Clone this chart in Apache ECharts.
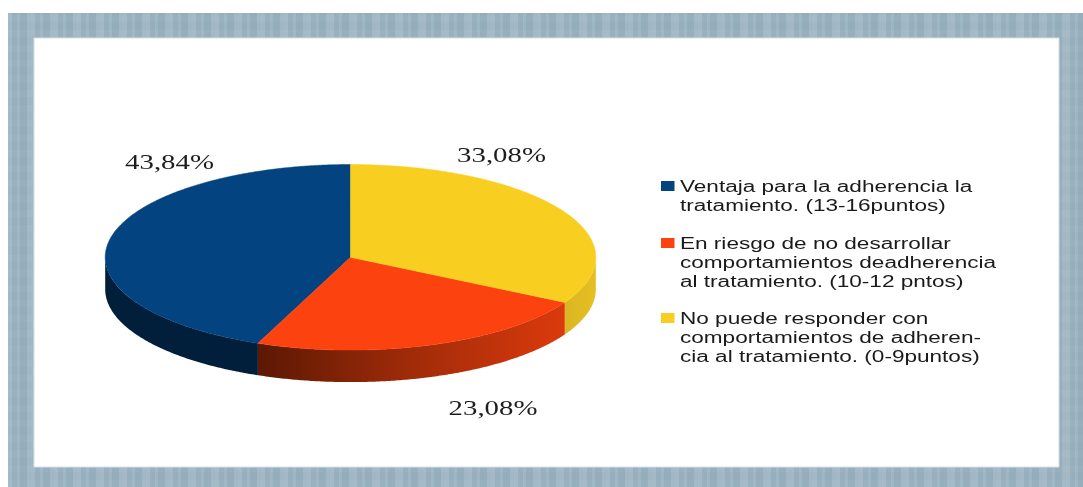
<!DOCTYPE html>
<html><head><meta charset="utf-8">
<style>
html,body{margin:0;padding:0;background:#ffffff;width:1083px;height:487px;overflow:hidden}
#frame{position:absolute;left:8px;top:13px;width:1075px;height:474px;background-color:#9db5c2;
background-image:
repeating-linear-gradient(90deg,rgba(255,255,255,.07) 0 4px,rgba(60,90,110,.05) 4px 9px,rgba(255,255,255,.03) 9px 12px,rgba(60,90,110,.07) 12px 19px,rgba(255,255,255,.05) 19px 23px),
repeating-linear-gradient(0deg,rgba(255,255,255,.015) 0 7px,rgba(60,90,110,.015) 7px 15px)}
#main{position:absolute;left:0;top:0;width:1083px;height:487px}
</style>
<script src="https://cdn.jsdelivr.net/npm/echarts@6/dist/echarts.min.js"></script>
</head><body><div id="frame"></div><div id="main"></div>
<script>
const categories = [
  "Ventaja para la adherencia la\ntratamiento. (13-16puntos)",
  "En riesgo de no desarrollar\ncomportamientos deadherencia\nal tratamiento. (10-12 pntos)",
  "No puede responder con\ncomportamientos de adheren-\ncia al tratamiento. (0-9puntos)"
];
const values = [43.84, 23.08, 33.08];
const topColors = ["#03437f", "#fb420f", "#f8cf20"];

const cx = 350.5, cy = 257.3, rx = 245.3, ry = 92.8, depth = 32;
const labelPos = [[169.5,163],[493,409],[501.5,156]];
const legendPos = [[661,181],[661,238],[661,313]];
const textScale = 1.31, legendScale = 1.41;
const total = values.reduce((a,b)=>a+b,0);

function pt(deg, dy){ const t = deg*Math.PI/180; return [cx + rx*Math.sin(t), cy - ry*Math.cos(t) + (dy||0)]; }
function arc(a,b,dy){ const n = Math.max(2,Math.ceil(Math.abs(b-a)*2)); const out=[]; for(let i=0;i<=n;i++) out.push(pt(a+(b-a)*i/n,dy)); return out; }
function sideFill(i){
  const G = echarts.graphic.LinearGradient;
  if(i===1) return new G(258,0,565,0,[{offset:0,color:'#5c1803'},{offset:.5,color:'#a02b09'},{offset:1,color:'#dc3a0c'}],true);
  if(i===2) return new G(565,0,596,0,[{offset:0,color:'#dcb622'},{offset:1,color:'#e6bf22'}],true);
  return '#011e3a';
}
function renderItem(params, api){
  const i = params.dataIndex;
  let before = 0; for(let k=0;k<i;k++) before += values[k];
  const end = 360 - before/total*360, start = 360 - (before+api.value(0))/total*360;
  const children = [];
  // side wall: only the front half of the rim (90..270 degrees) is visible
  const lo = Math.max(start,90), hi = Math.min(end,270);
  if(hi>lo){
    children.push({type:'polygon',shape:{points:arc(lo,hi,0).concat(arc(hi,lo,depth))},style:{fill:sideFill(i)}});
  }
  children.push({type:'polygon',shape:{points:[[cx,cy]].concat(arc(start,end,0))},style:{fill:topColors[i],stroke:topColors[i],lineWidth:.5}});
  const lab = api.value(0).toFixed(2).replace('.',',')+'%';
  children.push({type:'text',x:labelPos[i][0],y:labelPos[i][1],scaleX:textScale,
    style:{text:lab,fontFamily:'Liberation Serif',fontSize:22,fill:'#1d1d1d',align:'center',verticalAlign:'middle'}});
  children.push({type:'rect',shape:{x:legendPos[i][0],y:legendPos[i][1],width:13.5,height:10},style:{fill:topColors[i]}});
  children.push({type:'text',x:legendPos[i][0]+19,y:legendPos[i][1]-3.5,scaleX:legendScale,
    style:{text:categories[i],fontFamily:'Liberation Sans',fontSize:16,lineHeight:19.3,fill:'#1a1a1a',align:'left',verticalAlign:'top'}});
  return {type:'group',children};
}
const chart = echarts.init(document.getElementById('main'),null,{renderer:'canvas'});
chart.setOption({
  animation:false,
  backgroundColor:'transparent',
  graphic:[{type:'rect',z:-1,shape:{x:34,y:38,width:1025,height:429},style:{fill:'#ffffff',stroke:'#d6e0e6',lineWidth:1}}],
  series:[{type:'custom',coordinateSystem:'none',silent:true,renderItem,
    data:values.map((v,i)=>({name:categories[i],value:[v]}))}]
});
</script></body></html>
